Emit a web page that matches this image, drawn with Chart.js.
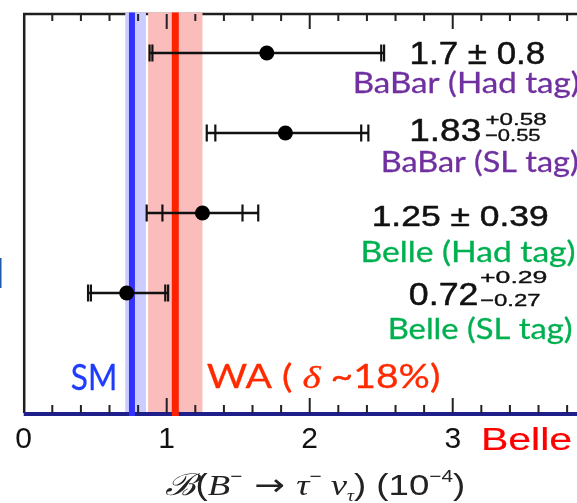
<!DOCTYPE html>
<html>
<head>
<meta charset="utf-8">
<script src="https://cdn.jsdelivr.net/npm/chart.js@4.4.1/dist/chart.umd.min.js"></script>
<style>
  html, body { margin: 0; padding: 0; background: #fff; overflow: hidden; }
  canvas { display: block; }
</style>
</head>
<body>
<canvas id="c" width="577" height="503"></canvas>
<script>
// Measurements of B(B- -> tau- nu_tau), in units of 1e-4
const experiments = ['BaBar (Had tag)', 'BaBar (SL tag)', 'Belle (Had tag)', 'Belle (SL tag)'];
const centralValues = [1.70, 1.83, 1.25, 0.72];
const statErrUp = [0.80, 0.53, 0.28, 0.27];
const statErrDown = [0.80, 0.49, 0.28, 0.25];
const totalErrUp = [0.82, 0.58, 0.39, 0.29];
const totalErrDown = [0.82, 0.55, 0.39, 0.27];
// values as quoted beside each measurement
const quotedCentral = ['1.7', '1.83', '1.25', '0.72'];
const quotedUp = ['0.8', '0.58', '0.39', '0.29'];
const quotedDown = ['0.8', '0.55', '0.39', '0.27'];
const experimentColors = ['#7030a0', '#7030a0', '#00b050', '#00b050'];
// Standard Model expectation and world average
const smValue = 0.757;
const smBand = [0.71, 0.855];
const waValue = 1.06;
const waBand = [0.87, 1.25];
const xTickLabels = ['0', '1', '2', '3'];

const rowOf = experiments.map((_, i) => i + 0.5);

const NUM_FONT = '"Liberation Sans", Arial, sans-serif';
const LBL_FONT = 'Lato, "Open Sans", sans-serif';
const SERIF = '"Liberation Serif", "DejaVu Serif", serif';

// draw text so that its ink spans exactly `inkWidth` pixels from `left`
function fitText(ctx, text, left, baseline, font, color, inkWidth, weight) {
  ctx.save();
  ctx.font = font;
  ctx.fillStyle = color;
  ctx.strokeStyle = color;
  ctx.textAlign = 'left';
  ctx.textBaseline = 'alphabetic';
  const m = ctx.measureText(text);
  const natural = m.actualBoundingBoxLeft + m.actualBoundingBoxRight;
  const sx = inkWidth ? inkWidth / natural : 1;
  ctx.translate(left, baseline);
  ctx.scale(sx, 1);
  ctx.fillText(text, m.actualBoundingBoxLeft, 0);
  if (weight) {
    ctx.lineWidth = weight;
    ctx.lineJoin = 'round';
    ctx.strokeText(text, m.actualBoundingBoxLeft, 0);
  }
  ctx.restore();
}

// several differently styled pieces on one line, fitted to a width
function fitRich(ctx, segs, left, baseline, inkWidth, weight) {
  ctx.save();
  ctx.textAlign = 'left';
  ctx.textBaseline = 'alphabetic';
  let total = 0;
  const ms = segs.map(s => { ctx.font = s.font; const m = ctx.measureText(s.text); total += m.width; return m; });
  const inkL = -ms[0].actualBoundingBoxLeft;
  const last = ms[ms.length - 1];
  const inkR = total - last.width + last.actualBoundingBoxRight;
  const sx = inkWidth / (inkR - inkL);
  ctx.translate(left, baseline);
  ctx.scale(sx, 1);
  ctx.translate(-inkL, 0);
  let x = 0;
  segs.forEach((s, i) => {
    ctx.font = s.font;
    ctx.fillStyle = s.color;
    ctx.strokeStyle = s.color;
    ctx.fillText(s.text, x, s.dy || 0);
    if (weight) {
      ctx.lineWidth = weight;
      ctx.lineJoin = 'round';
      ctx.strokeText(s.text, x, s.dy || 0);
    }
    x += ms[i].width;
  });
  ctx.restore();
}

const decorations = {
  id: 'decorations',
  beforeDatasetsDraw(chart) {
    const { ctx, chartArea: a, scales: { x, y } } = chart;
    ctx.save();
    ctx.lineCap = 'butt';

    // frame: left edge and top edge
    ctx.strokeStyle = '#1e1e1e';
    ctx.lineWidth = 2.5;
    ctx.beginPath();
    ctx.moveTo(a.left + 0.5, a.top);
    ctx.lineTo(a.left + 0.5, a.bottom);
    ctx.stroke();
    ctx.lineWidth = 2.3;
    ctx.beginPath();
    ctx.moveTo(a.left - 0.7, a.top + 1);
    ctx.lineTo(a.right, a.top + 1);
    ctx.stroke();

    // uncertainty bands
    const band = (lo, hi, color) => {
      const x0 = x.getPixelForValue(lo), x1 = x.getPixelForValue(hi);
      ctx.fillStyle = color;
      ctx.fillRect(x0, a.top - 0.5, x1 - x0, a.bottom - a.top + 0.5);
    };
    band(smBand[0], smBand[1], '#ccccff');
    band(waBand[0], waBand[1], '#fbbcbc');

    // x axis line
    ctx.strokeStyle = '#1f1f8c';
    ctx.lineWidth = 4;
    ctx.beginPath();
    ctx.moveTo(a.left, a.bottom + 1);
    ctx.lineTo(a.right, a.bottom + 1);
    ctx.stroke();

    // inward ticks on top and bottom edges
    ctx.strokeStyle = '#222';
    ctx.lineWidth = 2;
    x.ticks.forEach(t => {
      if (t.value <= 0) return;
      const px = x.getPixelForValue(t.value);
      const major = Math.abs(t.value - Math.round(t.value)) < 1e-6;
      ctx.beginPath();
      ctx.moveTo(px, a.top + 1);
      ctx.lineTo(px, a.top + (major ? 16 : 8));
      ctx.moveTo(px, a.bottom);
      ctx.lineTo(px, a.bottom - (major ? 15 : 8));
      ctx.stroke();
    });

    // SM and WA central lines
    const vline = (v, color, w) => {
      const px = x.getPixelForValue(v);
      ctx.strokeStyle = color;
      ctx.lineWidth = w;
      ctx.beginPath();
      ctx.moveTo(px, a.top - 0.5);
      ctx.lineTo(px, a.bottom + 3);
      ctx.stroke();
    };
    vline(smValue, '#3333ff', 6);
    vline(waValue, '#ff2200', 7);

    // error bars: total range with caps at stat and total ends
    ctx.strokeStyle = '#111';
    centralValues.forEach((c, i) => {
      const py = y.getPixelForValue(rowOf[i]);
      const lo = x.getPixelForValue(c - totalErrDown[i]);
      const hi = x.getPixelForValue(c + totalErrUp[i]);
      ctx.lineWidth = 2.5;
      ctx.beginPath();
      ctx.moveTo(lo, py);
      ctx.lineTo(hi, py);
      ctx.stroke();
      ctx.lineWidth = 2.2;
      [c - totalErrDown[i], c - statErrDown[i], c + statErrUp[i], c + totalErrUp[i]].forEach(v => {
        const px = x.getPixelForValue(v);
        ctx.beginPath();
        ctx.moveTo(px, py - 8.5);
        ctx.lineTo(px, py + 8.5);
        ctx.stroke();
      });
    });
    ctx.restore();
  },
  afterDraw(chart) {
    const { ctx, scales: { y } } = chart;

    // quoted results and experiment names, placed relative to each row
    const valueLayout = [
      { dx: 411.7, dy: 11, w: 133, size: 31.5 },
      { dx: 411.7, dy: 7.5, w: 68, size: 31, supX: 485.5, supDy: -8, supW: 60.5, subX: 485, subDy: 8, subW: 55 },
      { dx: 374, dy: 12.5, w: 174, size: 30 },
      { dx: 410, dy: 12, w: 67, size: 31, supX: 480, supDy: -10, supW: 66.7, subX: 480, subDy: 12.7, subW: 60 }
    ];
    const nameLayout = [
      { dx: 355, dy: 40.3, w: 224 },
      { dx: 383, dy: 38.5, w: 195 },
      { dx: 363, dy: 48.5, w: 212 },
      { dx: 390, dy: 45.5, w: 182 }
    ];
    experiments.forEach((name, i) => {
      const py = y.getPixelForValue(rowOf[i]);
      const L = valueLayout[i];
      if (quotedUp[i] === quotedDown[i]) {
        fitText(ctx, `${quotedCentral[i]} ± ${quotedUp[i]}`, L.dx, py + L.dy, `${L.size}px ${NUM_FONT}`, '#111', L.w, 0.5);
      } else {
        fitText(ctx, quotedCentral[i], L.dx, py + L.dy, `${L.size}px ${NUM_FONT}`, '#111', L.w, 0.5);
        fitText(ctx, '+' + quotedUp[i], L.supX, py + L.supDy, `17px ${NUM_FONT}`, '#111', L.supW, 0.35);
        fitText(ctx, '\u2212' + quotedDown[i], L.subX, py + L.subDy, `17px ${NUM_FONT}`, '#111', L.subW, 0.35);
      }
      const N = nameLayout[i];
      fitText(ctx, name, N.dx, py + N.dy, `28px ${LBL_FONT}`, experimentColors[i], N.w, 0.3);
    });

    // band labels
    fitText(ctx, 'SM', 71.7, 390, `36px ${LBL_FONT}`, '#1e3cff', 43.5, 0.3);
    fitRich(ctx, [
      { text: 'WA ( ', font: `32px ${LBL_FONT}`, color: '#ff2a00' },
      { text: '\u03b4', font: `italic 32px ${SERIF}`, color: '#ff2a00' },
      { text: ' ~18%)', font: `32px ${LBL_FONT}`, color: '#ff2a00' }
    ], 206.7, 388, 233, 0.3);

    // experiment tag in the corner
    fitText(ctx, 'Belle', 483.5, 450, `31.5px ${NUM_FONT}`, '#ff0000', 88, 0.2);

    // fragment of a neighbouring label at the left edge
    ctx.save();
    ctx.font = `40px ${LBL_FONT}`;
    ctx.fillStyle = '#1e5aa8';
    ctx.textAlign = 'right';
    ctx.fillText('l', 4.5, 288);
    ctx.restore();

    // axis title
    fitRich(ctx, [
      { text: '\u212c', font: `italic 30px "DejaVu Serif", serif`, color: '#222' },
      { text: '(', font: `30px ${NUM_FONT}`, color: '#222' },
      { text: 'B', font: `italic 30px ${SERIF}`, color: '#222' },
      { text: '\u2212', font: `17px ${NUM_FONT}`, color: '#222', dy: -13 },
      { text: ' \u2192 ', font: `30px "DejaVu Sans", sans-serif`, color: '#222' },
      { text: '\u03c4', font: `italic 30px ${SERIF}`, color: '#222' },
      { text: '\u2212', font: `17px ${NUM_FONT}`, color: '#222', dy: -13 },
      { text: ' \u03bd', font: `italic 30px ${SERIF}`, color: '#222' },
      { text: '\u03c4', font: `italic 16px ${SERIF}`, color: '#222', dy: 6 },
      { text: ')', font: `30px ${NUM_FONT}`, color: '#222' },
      { text: ' (10', font: `30px ${NUM_FONT}`, color: '#222' },
      { text: '\u22124', font: `17px ${NUM_FONT}`, color: '#222', dy: -13 },
      { text: ')', font: `30px ${NUM_FONT}`, color: '#222' }
    ], 165, 495, 299);
  }
};

new Chart(document.getElementById('c'), {
  type: 'scatter',
  data: {
    datasets: [{
      data: centralValues.map((v, i) => ({ x: v, y: rowOf[i] })),
      backgroundColor: '#000',
      borderWidth: 0,
      pointRadius: 7.5,
      pointHoverRadius: 7.5
    }]
  },
  options: {
    responsive: false,
    animation: false,
    devicePixelRatio: 1,
    events: [],
    layout: { autoPadding: false, padding: { left: 23.7, top: 13, right: 0, bottom: 0 } },
    plugins: { legend: { display: false }, tooltip: { enabled: false } },
    scales: {
      x: {
        type: 'linear',
        min: 0,
        max: 3.869,
        position: 'bottom',
        grid: { display: false, drawTicks: false },
        border: { display: false },
        ticks: {
          stepSize: 0.2,
          autoSkip: false,
          maxRotation: 0,
          includeBounds: false,
          padding: 9,
          color: '#111',
          font: { family: NUM_FONT, size: 30 },
          callback: v => {
            const r = Math.round(v);
            return Math.abs(v - r) < 1e-6 ? (xTickLabels[r] || '') : '';
          }
        },
        afterFit: s => { s.height = 90; }
      },
      y: {
        type: 'linear',
        min: 0,
        max: experiments.length + 1,
        reverse: true,
        display: false
      }
    }
  },
  plugins: [decorations]
});
</script>
</body>
</html>
